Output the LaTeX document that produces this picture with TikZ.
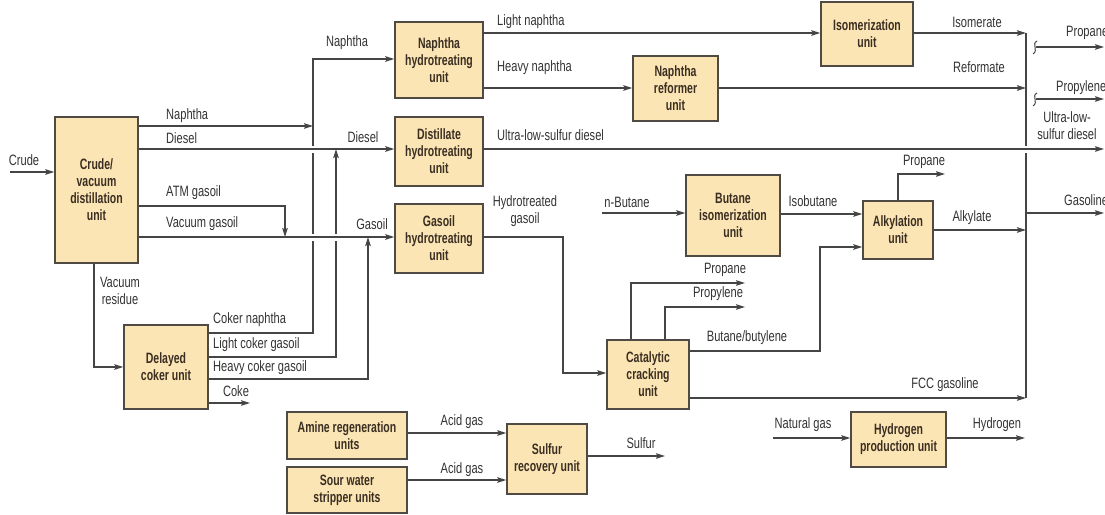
\documentclass[tikz,border=0pt]{standalone}
\usepackage{fontspec}
\setmainfont{Liberation Sans}[FakeStretch=0.74]
\newfontfamily\boxfont{Liberation Sans}[FakeStretch=0.70]
\usetikzlibrary{arrows.meta}
\definecolor{boxfill}{HTML}{FCE5B5}
\definecolor{boxline}{HTML}{4F4A44}
\definecolor{lncol}{HTML}{454545}
\definecolor{txtcol}{HTML}{333333}
\definecolor{boxtxt}{HTML}{3A2E22}
\begin{document}
\begin{tikzpicture}[x=1pt,y=-1pt,
  unitbox/.style={draw=boxline, fill=boxfill, line width=1.4pt, align=center, inner sep=0pt, text=boxtxt, font=\boxfont\bfseries\fontsize{15}{17}\selectfont},
  flow/.style={draw=lncol, line width=1.3pt, -{Stealth[length=9pt,width=5.5pt,inset=1.5pt]}},
  plainflow/.style={draw=lncol, line width=1.3pt},
  lab/.style={inner sep=0pt, text=txtcol, font=\fontsize{15}{17}\selectfont, align=center},
]
\useasboundingbox[fill=white] (0,0) rectangle (1105,514);

% ---------- units ----------
\node[unitbox, minimum width=83pt, minimum height=146pt] (cdu) at (96.5,190) {Crude/\\vacuum\\distillation\\unit};
\node[unitbox, minimum width=88pt, minimum height=76pt] (nht) at (439,60) {Naphtha\\hydrotreating\\unit};
\node[unitbox, minimum width=88pt, minimum height=69pt] (dht) at (439,151.5) {Distillate\\hydrotreating\\unit};
\node[unitbox, minimum width=88pt, minimum height=69pt] (ght) at (439,238.5) {Gasoil\\hydrotreating\\unit};
\node[unitbox, minimum width=92pt, minimum height=64pt] (iso) at (867,34) {Isomerization\\unit};
\node[unitbox, minimum width=85pt, minimum height=65pt] (ref) at (675.5,88.5) {Naphtha\\reformer\\unit};
\node[unitbox, minimum width=94pt, minimum height=81pt] (bis) at (733,215.5) {Butane\\isomerization\\unit};
\node[unitbox, minimum width=70pt, minimum height=58pt] (alk) at (898,230) {Alkylation\\unit};
\node[unitbox, minimum width=82pt, minimum height=69pt] (fcc) at (648,374.5) {Catalytic\\cracking\\unit};
\node[unitbox, minimum width=95pt, minimum height=55pt] (hpu) at (898.5,439.5) {Hydrogen\\production unit};
\node[unitbox, minimum width=84pt, minimum height=84pt] (dcu) at (166,367) {Delayed\\coker unit};
\node[unitbox, minimum width=120pt, minimum height=47pt] (amine) at (347,435.5) {Amine regeneration\\units};
\node[unitbox, minimum width=120pt, minimum height=46pt] (sour) at (347,490) {Sour water\\stripper units};
\node[unitbox, minimum width=80pt, minimum height=70pt] (sru) at (547,459) {Sulfur\\recovery unit};

% ---------- free ends ----------
\coordinate (crudein) at (10,172);
\coordinate (cokeout) at (250,403);
\coordinate (colltop) at (1026,33);
\coordinate (collbot) at (1026,398);
\coordinate (ulsdout) at (1104,149);
\coordinate (gasout) at (1104,213);
\coordinate (propout) at (1104,47);
\coordinate (propyout) at (1104,99);
\coordinate (propin) at (1036,47);
\coordinate (propyin) at (1036,99);
\coordinate (nbutin) at (602,213);
\coordinate (alkprop) at (945,174);
\coordinate (fccprop) at (745,283);
\coordinate (fccpropy) at (745,307);
\coordinate (natgas) at (773,438);
\coordinate (h2out) at (1025,438);
\coordinate (sulfout) at (665,456);

% ---------- connectors ----------
\draw[flow] (crudein) -- (crudein -| cdu.west);
\draw[flow] (cdu.east |- 0,126) -- (313,126);
\draw[flow] (dcu.east |- 0,333) -| (313,59) -- (nht.west |- 0,59);
\draw[flow] (dcu.east |- 0,357) -| (336,149);
\draw[flow] (dcu.east |- 0,379) -| (368,237);
\draw[flow] (cdu.east |- 0,206) -| (285,237);
\draw[flow] (cdu.east |- 0,149) -- (dht.west |- 0,149);
\draw[flow] (cdu.east |- 0,237) -- (ght.west |- 0,237);
\draw[flow] (cdu.south -| 94,0) |- (dcu.west);
\draw[flow] (dcu.east |- cokeout) -- (cokeout);

\draw[flow] (nht.east |- 0,33) -- (iso.west |- 0,33);
\draw[flow] (nht.east |- 0,88) -- (ref.west |- 0,88);
\draw[flow] (iso.east |- 0,33) -- (colltop);
\draw[flow] (ref.east |- 0,88) -- (1026,88);
\draw[plainflow] (colltop) -- (collbot);
\draw[flow] (dht.east |- ulsdout) -- (ulsdout);
\draw[flow] (1026,213) -- (gasout);
\draw[flow] (propin) -- (propout);
\draw[flow] (propyin) -- (propyout);
\draw[lncol, line width=1pt] (1037,41) .. controls (1031,44) and (1039,50) .. (1033,54);
\draw[lncol, line width=1pt] (1037,93) .. controls (1031,96) and (1039,102) .. (1033,106);

\draw[flow] (ght.east |- 0,237) -| (563,373) -- (fcc.west |- 0,373);
\draw[flow] (nbutin) -- (bis.west |- nbutin);
\draw[flow] (bis.east |- 0,214) -- (alk.west |- 0,214);
\draw[flow] (alk.north) |- (alkprop);
\draw[flow] (alk.east |- 0,230) -- (1026,230);
\draw[flow] (fcc.east |- 0,351) -| (820,247) -- (alk.west |- 0,247);
\draw[flow] (fcc.north -| 631,0) |- (fccprop);
\draw[flow] (fcc.north -| 665,0) |- (fccpropy);
\draw[flow] (fcc.east |- collbot) -- (collbot);
\draw[flow] (natgas) -- (hpu.west |- natgas);
\draw[flow] (hpu.east |- h2out) -- (h2out);
\draw[flow] (amine.east |- 0,433) -- (sru.west |- 0,433);
\draw[flow] (sour.east |- 0,480) -- (sru.west |- 0,480);
\draw[flow] (sru.east |- sulfout) -- (sulfout);

% ---------- line crossings (gaps in vertical lines) ----------
\foreach \cx/\cy in {313/149, 313/237, 336/237, 1026/149}{
  \fill[white] (\cx-2.5,\cy-3.5) rectangle (\cx+2.5,\cy+3.5);
  \draw[plainflow] (\cx-3.5,\cy) -- (\cx+3.5,\cy);
}

% ---------- labels ----------
\node[lab] (l1) at (24,160) {Crude};
\node[lab, anchor=west] (l2) at (166,116) {Naphtha};
\node[lab, anchor=west] (l3) at (166,138) {Diesel};
\node[lab, anchor=west] (l4) at (166,193) {ATM gasoil};
\node[lab, anchor=west] (l5) at (166,224) {Vacuum gasoil};
\node[lab] (l6) at (347,43) {Naphtha};
\node[lab] (l7) at (363,137) {Diesel};
\node[lab] (l8) at (372,224) {Gasoil};
\node[lab] (l9) at (120,291) {Vacuum\\residue};
\node[lab, anchor=west] (l10) at (213,320) {Coker naphtha};
\node[lab, anchor=west] (l11) at (213,345) {Light coker gasoil};
\node[lab, anchor=west] (l12) at (213,368) {Heavy coker gasoil};
\node[lab] (l13) at (236,391) {Coke};
\node[lab, anchor=west] (l14) at (497,22) {Light naphtha};
\node[lab, anchor=west] (l15) at (497,68) {Heavy naphtha};
\node[lab, anchor=west] (l16) at (497,135) {Ultra-low-sulfur diesel};
\node[lab] (l17) at (525,211) {Hydrotreated\\gasoil};
\node[lab] (l18) at (977,22) {Isomerate};
\node[lab] (l19) at (979,67) {Reformate};
\node[lab, anchor=west] (l20) at (1066,33) {Propane};
\node[lab, anchor=west] (l21) at (1056,88) {Propylene};
\node[lab] (l22) at (1067,126) {Ultra-low-\\sulfur diesel};
\node[lab, anchor=west] (l23) at (1064,200) {Gasoline};
\node[lab] (l24) at (924,162) {Propane};
\node[lab] (l25) at (972,218) {Alkylate};
\node[lab] (l26) at (813,201) {Isobutane};
\node[lab] (l27) at (627,202) {n-Butane};
\node[lab] (l28) at (725,270) {Propane};
\node[lab] (l29) at (718,294) {Propylene};
\node[lab] (l30) at (747,338) {Butane/butylene};
\node[lab] (l31) at (945,385) {FCC gasoline};
\node[lab] (l32) at (803,425) {Natural gas};
\node[lab] (l33) at (997,425) {Hydrogen};
\node[lab] (l34) at (462,422) {Acid gas};
\node[lab] (l35) at (462,470) {Acid gas};
\node[lab] (l36) at (641,443) {Sulfur};
\end{tikzpicture}
\end{document}
